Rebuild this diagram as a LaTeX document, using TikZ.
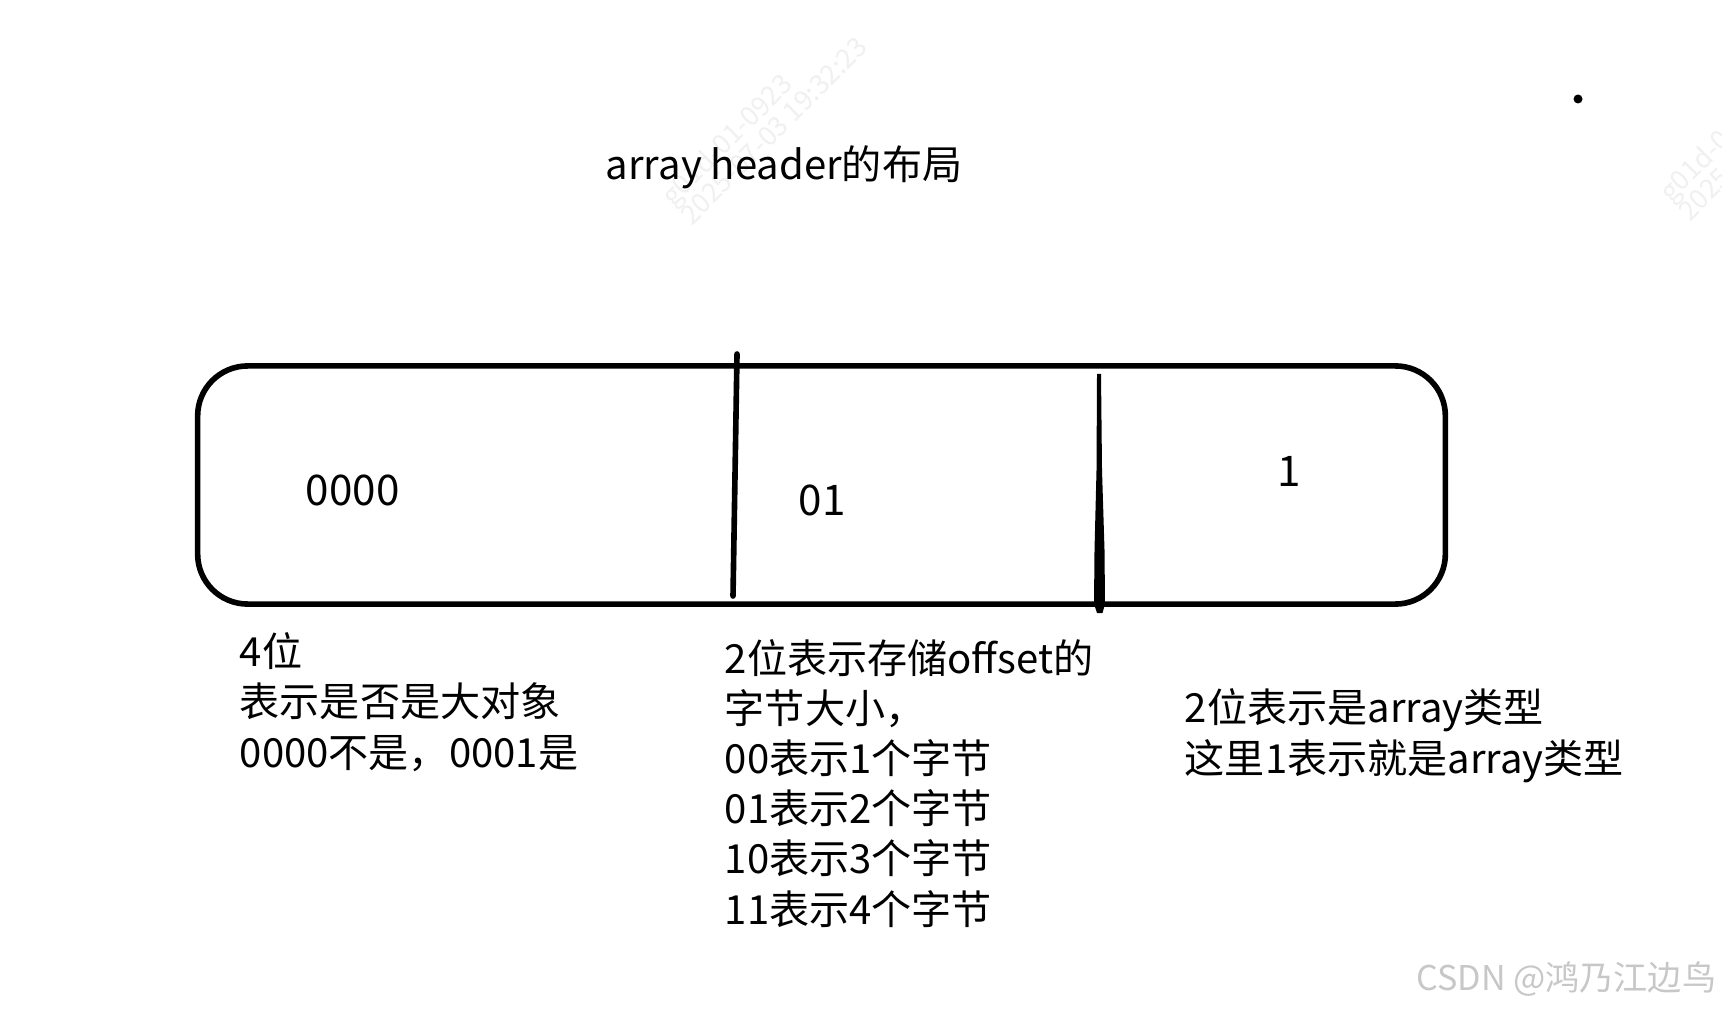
\documentclass[tikz,border=0pt]{standalone}
\usepackage{fontspec}
\setmainfont{Noto Sans CJK SC}
\tikzset{
    txt/.style = {inner sep=0, align=left, font=\fontsize{11.4pt}{14.23pt}\selectfont},
    bits/.style = {inner sep=0, font=\fontsize{12pt}{14.23pt}\selectfont},
    wmark/.style = {inner sep=0, align=left, text=black!6, rotate=45,
        font=\fontsize{7.7pt}{7.6pt}\selectfont},
}
\begin{document}
\begin{tikzpicture}[x=0.01cm, y=-0.01cm, line width=1.6pt, line join=round, line cap=round]
    \useasboundingbox (0,0) rectangle (1722,1010);
    % faint watermarks
    \draw(690,228) node [wmark, anchor=base west](wm1){g01d-01-0923\\2025-07-03 19:32:23};
    \draw(1688,224) node [wmark, anchor=base west](wm2){g01d-01-0923\\2025-07-03 19:32:23};

    \draw(603,180) node [txt, anchor=base west](title){array header的布局};
    \fill (1578,99) circle (4.5);

    % the header box
    \draw(821.5,485) node [draw, rounded corners=0.5cm, minimum width=12.47cm, minimum height=2.38cm](hdr){};
    \coordinate (d1a) at (737,354);
    \coordinate (d1b) at (733,596);
    \draw (d1a) -- (d1b);
    \fill (1097,374) -- (1101,374) -- (1102,470) -- (1104.5,550) -- (1105,604)
        -- (1102.5,613) -- (1097,613) -- (1094,604) -- (1094.5,550) -- (1096.5,470) -- cycle;

    \draw(303,505) node [bits, anchor=base west](b4){0000};
    \draw(796,515) node [bits, anchor=base west](b2){01};
    \draw(1289,487) node [bits, anchor=base](b1){1};

    % base = last line
    \draw(237,767) node [txt, anchor=base west](n4){4位\\表示是否是大对象\\0000不是，0001是};
    \draw(722,924) node [txt, anchor=base west](n2){2位表示存储offset的\\字节大小，\\00表示1个字节\\01表示2个字节\\10表示3个字节\\11表示4个字节};
    \draw(1182,773) node [txt, anchor=base west](n1){2位表示是array类型\\这里1表示就是array类型};

    \draw(1719,990) node [inner sep=0, anchor=base east, text=black!22,
        font=\fontsize{9.7pt}{11pt}\selectfont](csdn){CSDN @鸿乃江边鸟};
\end{tikzpicture}
\end{document}
